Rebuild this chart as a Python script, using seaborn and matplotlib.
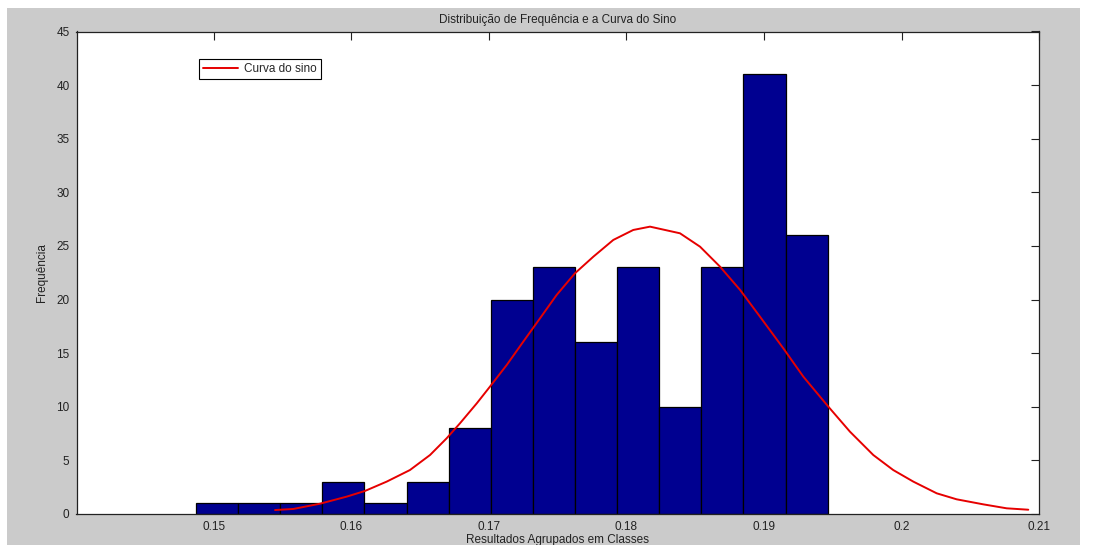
import numpy as np
import pandas as pd
import matplotlib
matplotlib.use("Agg")
import matplotlib.pyplot as plt
from matplotlib.patches import Rectangle
import seaborn as sns

# ---- data ----
bin_start = 0.14869
bin_width = 0.003063
counts = [1, 1, 1, 3, 1, 3, 8, 20, 23, 16, 23, 10, 23, 41, 26]

curve_x = [0.15444, 0.15577, 0.15771, 0.15965, 0.16098, 0.16256, 0.16425, 0.16571,
           0.16692, 0.16789, 0.16911, 0.17007, 0.17129, 0.17249, 0.17371, 0.17492,
           0.17625, 0.17759, 0.17904, 0.18049, 0.18171, 0.18389, 0.18535, 0.18680,
           0.18826, 0.18971, 0.19140, 0.19286, 0.19468, 0.19625, 0.19795, 0.19940,
           0.20086, 0.20256, 0.20401, 0.20595, 0.20765, 0.20922]
curve_y = [0.37, 0.47, 0.96, 1.62, 2.15, 3.02, 4.10, 5.50,
           7.06, 8.46, 10.32, 11.88, 13.9, 16.07, 18.25, 20.43,
           22.45, 24.0, 25.56, 26.49, 26.80, 26.18, 24.93, 23.07,
           20.9, 18.4, 15.46, 12.81, 10.01, 7.68, 5.50, 4.10,
           3.02, 1.93, 1.37, 0.90, 0.53, 0.40]

x_ticks = [0.15, 0.16, 0.17, 0.18, 0.19, 0.2, 0.21]
x_tick_labels = ["0.15", "0.16", "0.17", "0.18", "0.19", "0.2", "0.21"]
y_ticks = [0, 5, 10, 15, 20, 25, 30, 35, 40, 45]

title = "Distribuição de Frequência e a Curva do Sino"
xlabel = "Resultados Agrupados em Classes"
ylabel = "Frequência"
legend_label = "Curva do sino"

# ---- drawing ----
sns.set_style("white")
plt.rcParams['font.family'] = ['Liberation Sans', 'DejaVu Sans']

fig = plt.figure(figsize=(10.99, 5.45), dpi=100)
fig.patch.set_facecolor("white")
fig.patches.append(Rectangle((7 / 1099, 0), (1080 - 7) / 1099, (545 - 8) / 545,
                             transform=fig.transFigure, facecolor="#cbcbcb",
                             edgecolor="none", zorder=-10))

ax = fig.add_axes([76.5 / 1099, 1 - 514 / 545, (1039 - 76.5) / 1099, (514 - 31.5) / 545])
ax.set_facecolor("white")

n_bins = len(counts)
edges = [bin_start + bin_width * i for i in range(n_bins + 1)]
centers = [(edges[i] + edges[i + 1]) / 2 for i in range(n_bins)]
hist_df = pd.DataFrame({"center": centers, "count": counts})

sns.histplot(data=hist_df, x="center", weights="count", bins=edges, ax=ax,
             color="#000090", alpha=1.0, edgecolor="#000000", linewidth=0.9)

curve_df = pd.DataFrame({"x": curve_x, "y": curve_y})
sns.lineplot(data=curve_df, x="x", y="y", ax=ax, color="#e60000", linewidth=1.4,
             label=legend_label, sort=False)

ax.set_xlim(0.14, 0.21)
ax.set_ylim(0, 45)
ax.set_xticks(x_ticks)
ax.set_xticklabels(x_tick_labels)
ax.set_yticks(y_ticks)
ax.tick_params(axis="both", direction="in", length=6, width=0.8, color="#222222",
               labelsize=8.5, top=True, right=True, labelcolor="#222222", pad=5)

for s in ax.spines.values():
    s.set_visible(True)
    s.set_color("#222222")
    s.set_linewidth(0.9)

ax.set_title(title, fontsize=8.5, color="#222222", pad=6)
ax.set_xlabel(xlabel, fontsize=8.5, color="#222222", labelpad=1)
ax.set_ylabel(ylabel, fontsize=8.5, color="#222222", labelpad=6)

leg = ax.legend(loc="upper left", bbox_to_anchor=(0.127, 0.943), borderaxespad=0,
                fancybox=False, framealpha=1, edgecolor="black", fontsize=8.5,
                handlelength=3.0, borderpad=0.35, handletextpad=0.5)
leg.get_frame().set_linewidth(0.8)

fig.savefig("out.png", dpi=100, facecolor=fig.get_facecolor())
